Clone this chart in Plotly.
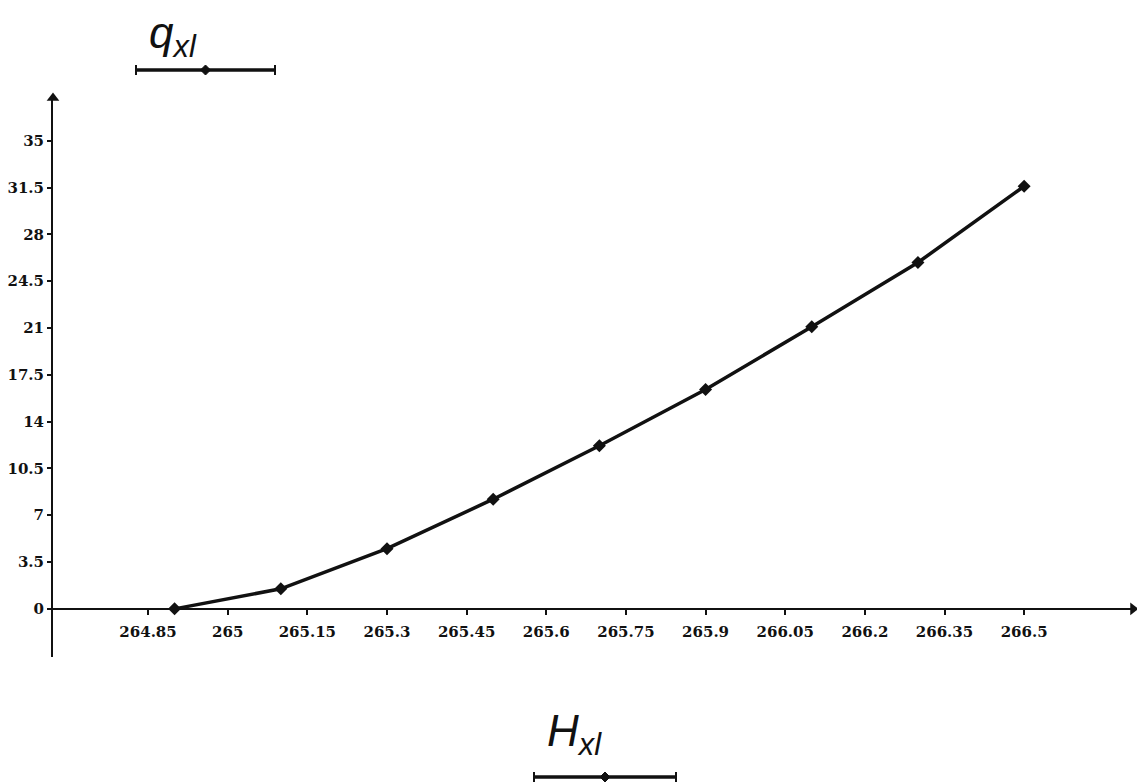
import plotly.graph_objects as go

# Data
H_xl = [264.9, 265.1, 265.3, 265.5, 265.7, 265.9, 266.1, 266.3, 266.5]
q_xl = [0.0, 1.5, 4.5, 8.2, 12.2, 16.4, 21.1, 25.9, 31.6]

x_tickvals = [264.85, 265.0, 265.15, 265.3, 265.45, 265.6, 265.75, 265.9, 266.05, 266.2, 266.35, 266.5]
x_ticktext = ["264.85", "265", "265.15", "265.3", "265.45", "265.6", "265.75", "265.9", "266.05", "266.2", "266.35", "266.5"]
y_tickvals = [0, 3.5, 7, 10.5, 14, 17.5, 21, 24.5, 28, 31.5, 35]
y_ticktext = ["0", "3.5", "7", "10.5", "14", "17.5", "21", "24.5", "28", "31.5", "35"]

X_RANGE = [264.671, 266.705]
Y_RANGE = [-3.6, 38.2]

W, H = 1137, 784
ML, MR, MT, MB = 53, 4, 98, 127
PW, PH = W - ML - MR, H - MT - MB


def px(xp):
    return (xp - ML) / PW


def py(yp):
    return (H - MB - yp) / PH


tickfont = dict(family="DejaVu Serif", size=15, color="#111", weight="bold")

fig = go.Figure()
fig.add_trace(go.Scatter(
    x=H_xl, y=q_xl, mode="lines+markers",
    line=dict(color="#111", width=3.5),
    marker=dict(symbol="diamond", size=10, color="#111"),
    showlegend=False, hoverinfo="skip",
))

# Axis arrowheads at the ends of the axes
fig.add_trace(go.Scatter(
    x=[X_RANGE[1]], y=[0], mode="markers", cliponaxis=False,
    marker=dict(symbol="triangle-right", size=11, color="#111"),
    showlegend=False, hoverinfo="skip",
))
fig.add_trace(go.Scatter(
    x=[X_RANGE[0]], y=[Y_RANGE[1]], mode="markers", cliponaxis=False,
    marker=dict(symbol="triangle-up", size=11, color="#111"),
    showlegend=False, hoverinfo="skip",
))

x_pos = (0 - Y_RANGE[0]) / (Y_RANGE[1] - Y_RANGE[0])

fig.update_layout(
    width=W, height=H,
    margin=dict(l=ML, r=MR, t=MT, b=MB, pad=0, autoexpand=False),
    paper_bgcolor="white", plot_bgcolor="white",
    showlegend=False,
    xaxis=dict(
        range=X_RANGE, showgrid=False, zeroline=False, automargin=False,
        anchor="free", position=x_pos,
        showline=True, linecolor="#111", linewidth=2,
        tickvals=x_tickvals, ticktext=x_ticktext,
        ticks="outside", ticklen=5, tickwidth=1.5, tickcolor="#111",
        tickfont=tickfont, ticklabelstandoff=4,
    ),
    yaxis=dict(
        range=Y_RANGE, showgrid=False, zeroline=False, automargin=False,
        showline=True, linecolor="#111", linewidth=2,
        tickvals=y_tickvals, ticktext=y_ticktext,
        ticks="outside", ticklen=4, tickwidth=1.5, tickcolor="#111",
        tickfont=tickfont, ticklabelstandoff=0,
    ),
)

# Axis labels (Mathcad-style)
label_font = dict(family="Liberation Sans", size=44, color="#111")
fig.add_annotation(x=px(173), y=py(36), xref="paper", yref="paper",
                   text="<i>q<sub>xl</sub></i>", showarrow=False, font=label_font,
                   xanchor="center", yanchor="middle")
fig.add_annotation(x=px(574), y=py(734), xref="paper", yref="paper",
                   text="<i>H<sub>xl</sub></i>", showarrow=False, font=label_font,
                   xanchor="center", yanchor="middle")


def trace_indicator(x0, x1, yc):
    shapes = []
    shapes.append(dict(type="line", xref="paper", yref="paper",
                       x0=px(x0), x1=px(x1), y0=py(yc), y1=py(yc),
                       line=dict(color="#111", width=3.5)))
    for xe in (x0, x1):
        shapes.append(dict(type="line", xref="paper", yref="paper",
                           x0=px(xe), x1=px(xe), y0=py(yc - 5), y1=py(yc + 5),
                           line=dict(color="#111", width=2)))
    xm = (x0 + x1) / 2
    path = (f"M {px(xm - 5)} {py(yc)} L {px(xm)} {py(yc - 5)} "
            f"L {px(xm + 5)} {py(yc)} L {px(xm)} {py(yc + 5)} Z")
    shapes.append(dict(type="path", xref="paper", yref="paper", path=path,
                       fillcolor="#111", line=dict(color="#111", width=1)))
    return shapes


for s in trace_indicator(136, 275, 70) + trace_indicator(534, 676, 777):
    fig.add_shape(**s)

fig.write_html(
    "out.html",
    config={"displayModeBar": False},
    post_script="document.body.style.margin='0';document.body.style.overflow='hidden';",
)
